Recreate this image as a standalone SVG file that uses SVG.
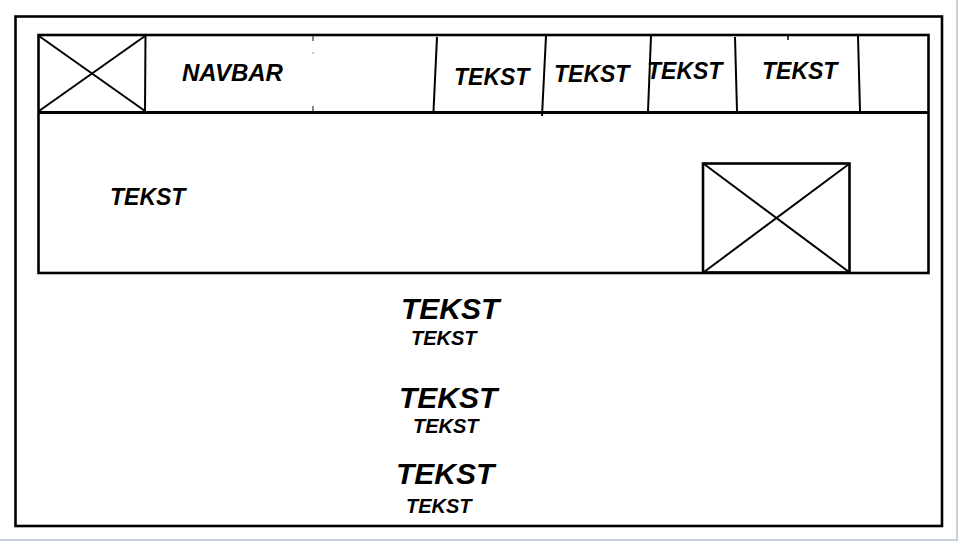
<svg xmlns="http://www.w3.org/2000/svg" width="958" height="541" viewBox="0 0 958 541">
<style>
.box{fill:none;stroke:#000;stroke-width:2.6}
.x{stroke:#000;stroke-width:2;fill:none}
.div{stroke:#000;stroke-width:2;fill:none}
text{font-family:"Liberation Sans",Arial,sans-serif;font-weight:bold;font-style:italic;fill:#000}
.nav{font-size:23px}
.big{font-size:30px}
.small{font-size:20px}
</style>
<rect width="958" height="541" fill="#fff"/>
<line x1="957" y1="0" x2="957" y2="541" stroke="#b9c3cf" stroke-width="1.5"/>
<line x1="0" y1="540" x2="958" y2="540" stroke="#b9c3cf" stroke-width="1.5"/>
<g id="page">
<rect class="box" x="15.5" y="16.5" width="926.5" height="509.5"/>
</g>
<g id="navbar">
<rect class="box" x="38.5" y="35" width="890" height="238"/>
<line x1="38" y1="112.5" x2="929" y2="112.5" stroke="#000" stroke-width="3"/>
<g id="logo">
<line class="div" x1="145.5" y1="35" x2="145" y2="112"/>
<line class="x" x1="39" y1="36" x2="145" y2="111"/>
<line class="x" x1="39" y1="111" x2="145" y2="36"/>
</g>
<line x1="313" y1="36" x2="313" y2="41" stroke="#333" stroke-width="1.2"/>
<line x1="313" y1="52" x2="313" y2="54" stroke="#888" stroke-width="1"/>
<line x1="313" y1="106" x2="313" y2="111" stroke="#333" stroke-width="1.2"/>
<line class="div" x1="437" y1="37" x2="433.5" y2="111"/>
<line class="div" x1="546" y1="36" x2="542" y2="116"/>
<line class="div" x1="651" y1="36" x2="648" y2="111"/>
<line class="div" x1="735" y1="37" x2="737" y2="111"/>
<line x1="788" y1="36" x2="788" y2="40" stroke="#000" stroke-width="1.5"/>
<line class="div" x1="858" y1="36" x2="860" y2="111"/>
<text class="nav" x="182" y="81" style="font-size:24px">NAVBAR</text>
<text class="nav" x="454" y="85">TEKST</text>
<text class="nav" x="554" y="82">TEKST</text>
<text class="nav" x="647" y="79">TEKST</text>
<text class="nav" x="762" y="79">TEKST</text>
</g>
<g id="hero">
<text class="nav" x="110" y="205">TEKST</text>
<g id="hero-image">
<rect class="box" x="703" y="163.5" width="146.5" height="109"/>
<line class="x" x1="704" y1="164" x2="849" y2="272"/>
<line class="x" x1="704" y1="272" x2="849" y2="164"/>
</g>
</g>
<g id="item1">
<text class="big" x="401" y="319">TEKST</text>
<text class="small" x="411" y="345">TEKST</text>
</g>
<g id="item2">
<text class="big" x="399" y="408">TEKST</text>
<text class="small" x="413" y="433">TEKST</text>
</g>
<g id="item3">
<text class="big" x="396" y="484">TEKST</text>
<text class="small" x="406" y="513">TEKST</text>
</g>
<g id="connectors"/>
</svg>
